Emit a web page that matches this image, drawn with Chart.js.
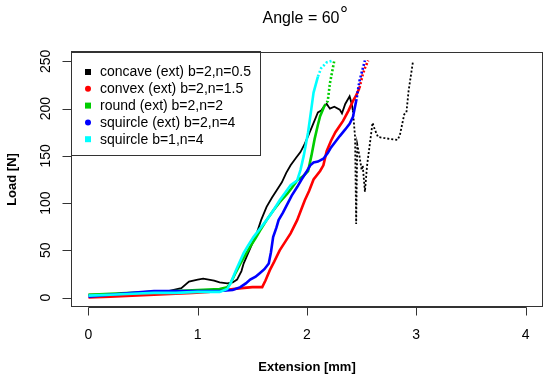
<!DOCTYPE html>
<html>
<head>
<meta charset="utf-8">
<script src="https://cdn.jsdelivr.net/npm/chart.js@4/dist/chart.umd.min.js"></script>
<style>
html,body{margin:0;padding:0;background:#fff;}
#wrap{width:550px;height:381px;position:relative;}
</style>
</head>
<body>
<div id="wrap"><canvas id="c" width="550" height="381"></canvas></div>
<script>
// ---- data ----
const seriesNames = ["concave (ext) b=2,n=0.5","convex (ext) b=2,n=1.5","round (ext) b=2,n=2","squircle (ext) b=2,n=4","squircle b=1,n=4"];
const seriesColors = ["#000000","#ff0000","#00cd00","#0000ff","#00ffff"];

const concaveX = [0.00,0.10,0.30,0.50,0.70,0.85,0.92,1.00,1.05,1.10,1.15,1.20,1.27,1.32,1.36,1.40,1.42,1.48,1.54,1.58,1.63,1.68,1.72,1.77,1.81,1.85,1.90,1.94,1.98,2.01,2.05,2.10,2.13,2.16,2.18,2.21,2.25,2.30,2.32,2.35,2.39,2.41,2.42,2.44,2.45,2.46,2.48,2.50,2.51,2.53,2.55,2.57,2.60,2.62,2.65,2.70,2.76,2.83,2.85,2.89,2.91,2.93,2.97];
const concaveY = [3,3,4,5,6,10,17,19,20,19,18,16,15,16,19,28,36,52,68,82,96,106,113,122,132,140,148,154,163,171,182,196,198,203,205,200,202,199,195,205,213,205,198,170,78,162,150,135,140,112,140,158,185,178,170,169,168,167,172,194,196,219,250];

const convexX = [0.00,0.20,0.40,0.60,0.80,0.95,1.10,1.25,1.40,1.50,1.59,1.62,1.66,1.70,1.75,1.80,1.85,1.91,1.95,1.98,2.02,2.06,2.12,2.15,2.18,2.22,2.26,2.30,2.33,2.38,2.42,2.45,2.48,2.51,2.53,2.56];
const convexY = [0,1,2,3,4,5,6,8,10,11,11,18,29,38,50,59,68,82,94,103,113,125,134,140,155,166,175,182,187,198,208,214,222,236,243,251];

const roundX = [0.00,0.20,0.40,0.60,0.80,1.00,1.20,1.27,1.30,1.35,1.39,1.44,1.48,1.53,1.57,1.63,1.69,1.75,1.82,1.86,1.91,1.96,2.01,2.04,2.07,2.10,2.12,2.16,2.19,2.21,2.25];
const roundY = [3,4,5,6,7,8,9,11,15,27,36,46,54,63,71,82,92,101,110,116,124,128,134,150,168,183,192,203,208,227,251];

const squircleExtX = [0.00,0.20,0.40,0.60,0.80,1.00,1.20,1.32,1.39,1.44,1.48,1.53,1.57,1.61,1.65,1.67,1.69,1.72,1.74,1.78,1.82,1.86,1.91,1.95,2.00,2.03,2.06,2.10,2.15,2.19,2.22,2.26,2.30,2.35,2.39,2.42,2.45,2.48,2.53];
const squircleExtY = [1,3,5,7,7,7,7,8,11,15,19,22,26,30,36,48,64,74,82,90,99,108,117,125,134,140,143,144,147,153,159,165,171,178,184,191,208,229,251];

const squircleX = [0.00,0.20,0.40,0.60,0.80,1.00,1.20,1.27,1.30,1.35,1.42,1.46,1.51,1.57,1.63,1.69,1.75,1.80,1.85,1.91,1.94,1.97,2.01,2.04,2.06,2.10,2.13,2.18,2.24];
const squircleY = [2,3,4,5,5,6,6,9,15,29,47,55,64,73,82,92,103,111,119,124,135,150,175,200,217,234,243,249,251];

const xTicks = [0,1,2,3,4];
const yTicks = [0,50,100,150,200,250];
// x value after which each series is sparse (drawn dotted)
const sparseFrom = [2.42,2.48,2.16,2.45,2.10];

// ---- build ----
const xs = [concaveX, convexX, roundX, squircleExtX, squircleX];
const ys = [concaveY, convexY, roundY, squircleExtY, squircleY];
const widths = [1.8,2.6,2.6,2.6,2.6];
const FONT = '"Liberation Sans", Arial, sans-serif';

const datasets = seriesNames.map((name,i)=>({
  label: name,
  data: xs[i].map((x,k)=>({x:x,y:ys[i][k]})),
  borderColor: seriesColors[i],
  backgroundColor: seriesColors[i],
  borderWidth: widths[i],
  showLine: true,
  pointRadius: 0,
  tension: 0,
  order: 5 - i,
  segment: { borderDash: ctx => ctx.p0.parsed.x >= sparseFrom[i] - 1e-9 ? [2,2] : undefined }
}));

const rPlot = {
  id: 'rPlot',
  afterDraw(chart){
    const ctx = chart.ctx, a = chart.chartArea;
    const sx = chart.scales.x, sy = chart.scales.y;
    ctx.save();
    ctx.strokeStyle = '#333'; ctx.lineWidth = 1;
    // box
    ctx.strokeRect(Math.round(a.left)+0.5, Math.round(a.top)+0.5, Math.round(a.right-a.left)-1, Math.round(a.bottom-a.top)-1);
    ctx.fillStyle = '#000';
    // x axis
    const yb = Math.round(a.bottom)+0.5;
    ctx.beginPath();
    ctx.moveTo(Math.round(sx.getPixelForValue(xTicks[0]))+0.5, yb);
    ctx.lineTo(Math.round(sx.getPixelForValue(xTicks[xTicks.length-1]))+0.5, yb);
    xTicks.forEach(t=>{ const px = Math.round(sx.getPixelForValue(t))+0.5; ctx.moveTo(px,yb); ctx.lineTo(px,yb+8); });
    ctx.stroke();
    ctx.font = '14px ' + FONT; ctx.textAlign='center'; ctx.textBaseline='alphabetic';
    xTicks.forEach(t=>{ ctx.fillText(String(t), sx.getPixelForValue(t), 339); });
    // y axis
    const xl = Math.round(a.left)+0.5;
    ctx.beginPath();
    ctx.moveTo(xl, Math.round(sy.getPixelForValue(yTicks[0]))+0.5);
    ctx.lineTo(xl, Math.round(sy.getPixelForValue(yTicks[yTicks.length-1]))+0.5);
    yTicks.forEach(t=>{ const py = Math.round(sy.getPixelForValue(t))+0.5; ctx.moveTo(xl,py); ctx.lineTo(xl-9,py); });
    ctx.stroke();
    yTicks.forEach(t=>{
      ctx.save(); ctx.translate(50, sy.getPixelForValue(t)); ctx.rotate(-Math.PI/2);
      ctx.fillText(String(t), 0, 0); ctx.restore();
    });
    // axis titles
    ctx.font = 'bold 13px ' + FONT;
    ctx.fillText('Extension [mm]', (a.left+a.right)/2, 371);
    ctx.save(); ctx.translate(16, (a.top+a.bottom)/2); ctx.rotate(-Math.PI/2);
    ctx.fillText('Load [N]', 0, 0); ctx.restore();
    // title
    ctx.font = '16px ' + FONT; ctx.textAlign='left';
    const main = 'Angle = 60';
    const w = ctx.measureText(main).width;
    const tx0 = (a.left+a.right)/2 - 2 - (w+8)/2;
    ctx.fillText(main, tx0, 23);
    ctx.font = '20px ' + FONT;
    ctx.fillText('\u00B0', tx0 + w + 0.5, 21);
    // legend
    const lx = Math.round(a.left)+0.5, ly = Math.round(a.top)-0.5;
    ctx.strokeRect(lx, ly, 189, 104);
    ctx.font = '14px ' + FONT; ctx.textBaseline='middle';
    chart.data.datasets.forEach((ds,i)=>{
      const cy = 72 + i*16.8;
      ctx.fillStyle = ds.borderColor;
      if (i===1 || i===3){ ctx.beginPath(); ctx.arc(88, cy, 3, 0, Math.PI*2); ctx.fill(); }
      else { ctx.fillRect(85, cy-3, 6, 6); }
      ctx.fillStyle = '#000';
      ctx.fillText(ds.label, 100, cy+0.5);
    });
    ctx.restore();
  }
};

new Chart(document.getElementById('c'), {
  type: 'scatter',
  data: { datasets },
  options: {
    responsive: false,
    animation: false,
    layout: { padding: { left: 71, right: 7, top: 52, bottom: 74 } },
    plugins: { legend: { display: false }, tooltip: { enabled: false }, title: { display: false } },
    scales: {
      x: { type: 'linear', min: -0.16, max: 4.16, display: false },
      y: { type: 'linear', min: -10, max: 260, display: false }
    }
  },
  plugins: [rPlot]
});
</script>
</body>
</html>
